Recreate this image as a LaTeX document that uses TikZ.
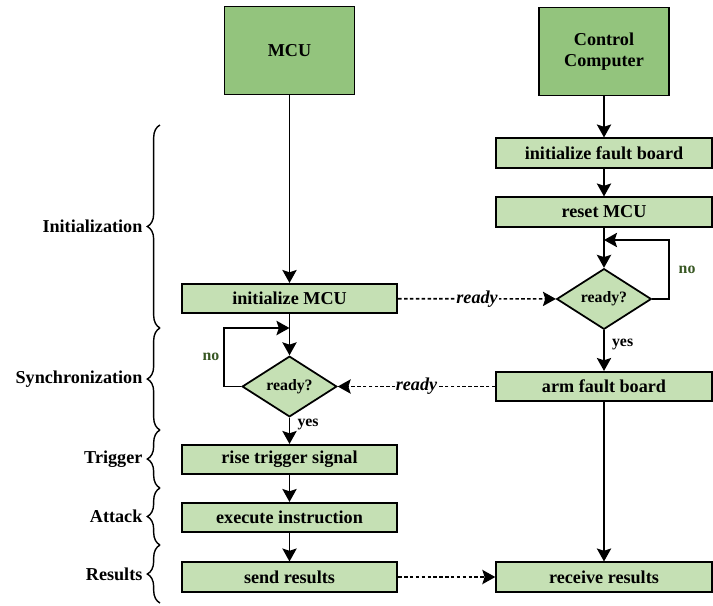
\documentclass[tikz,border=0pt]{standalone}
\usepackage{fontspec}
\setmainfont{Liberation Serif}
\usetikzlibrary{shapes.geometric,arrows.meta,decorations.pathreplacing}
\definecolor{headgreen}{HTML}{93C47D}
\definecolor{stepgreen}{HTML}{C5E0B4}
\definecolor{nogreen}{HTML}{385723}

\begin{document}
\begin{tikzpicture}[
  x=0.03cm, y=-0.03cm,
  every node/.style={font=\fontsize{15.5}{18}\selectfont\bfseries},
  small/.style={font=\fontsize{13.5}{16}\selectfont\bfseries},
  headbox/.style={draw, line width=1.5pt, fill=headgreen, align=center,
    minimum width=3.9cm, minimum height=2.64cm},
  stepbox/.style={draw, line width=1.5pt, fill=stepgreen,
    minimum width=6.47cm, minimum height=0.88cm},
  check/.style={draw, diamond, line width=1.5pt, fill=stepgreen, small,
    inner sep=0pt, minimum width=2.84cm, minimum height=1.72cm},
  flow/.style={line width=1.4pt, -{Stealth[length=3.9mm, width=4.3mm, inset=0.7mm]}},
  msg/.style={flow, dash pattern=on 3pt off 2pt},
  phase/.style={line width=1.2pt, decorate, decoration={brace, amplitude=0.38cm}},
%  phase/.style={draw, decorate, decoration={brace, mirror}},
]
\useasboundingbox (0,0) rectangle (713,605);

% control computer side
\node[headbox] (ctrl) at (604,51.5) {Control\\Computer};
\node[stepbox] (initfb) at (604,153) {initialize fault board};
\node[stepbox] (resetmcu) at (604,212) {reset MCU};
\node[check] (readycc) at (604,299) {ready?};
\node[stepbox] (arm) at (604,386.5) {arm fault board};
\node[stepbox] (recv) at (604,577) {receive results};

% mcu side
\node[headbox] (mcu) at (289.5,50.5) {MCU};
\node[stepbox] (initmcu) at (289.5,298.5) {initialize MCU};
\node[check] (readymcu) at (289.5,386.5) {ready?};
\node[stepbox] (trig) at (289.5,459.5) {rise trigger signal};
\node[stepbox] (exec) at (289.5,517.5) {execute instruction};
\node[stepbox] (send) at (289.5,577) {send results};

\coordinate (loopcc) at (669,240);
\coordinate (loopmcu) at (224,328);

\draw[flow] (ctrl) -- (initfb);
\draw[flow] (initfb) -- (resetmcu);
\draw[flow] (resetmcu) -- (readycc);
\draw[flow] (readycc.east) -| node[pos=0.75, right=0.15cm, small, text=nogreen] (nocc) {no}
  (loopcc) -- (loopcc -| readycc.north);
\draw[flow] (readycc) -- node[pos=0.35, right=0.1cm, small] (yescc) {yes} (arm);
\draw[flow] (arm) -- (recv);

\draw[flow] (mcu) -- (initmcu);
\draw[flow] (initmcu) -- (readymcu);
\draw[flow] (readymcu.west) -| node[pos=0.75, left, small, text=nogreen] (nomcu) {no}
  (loopmcu) -- (loopmcu -| readymcu.north);
\draw[flow] (readymcu) -- node[pos=0.25, right=0.1cm, small] (yesmcu) {yes} (trig);
\draw[flow] (trig) -- (exec);
\draw[flow] (exec) -- (send);

% messages between the two
\draw[msg] (initmcu) -- node[fill=white, inner sep=1pt, font=\fontsize{15.5}{18}\selectfont\bfseries\itshape] (rdyone) {ready} (readycc);
\draw[msg] (arm) -- node[fill=white, inner sep=1pt, font=\fontsize{15.5}{18}\selectfont\bfseries\itshape] (rdytwo) {ready} (readymcu);
\draw[msg] (send) -- (recv);

% phases
\foreach \name/\ytop/\ybot in {Initialization/125/328,Synchronization/328/430,Trigger/430/488,Attack/488/545,Results/545/603}
  \draw[phase] (160,\ybot) -- (160,\ytop) node[midway, left=0.39cm] (\name) {\name};
\end{tikzpicture}
\end{document}
